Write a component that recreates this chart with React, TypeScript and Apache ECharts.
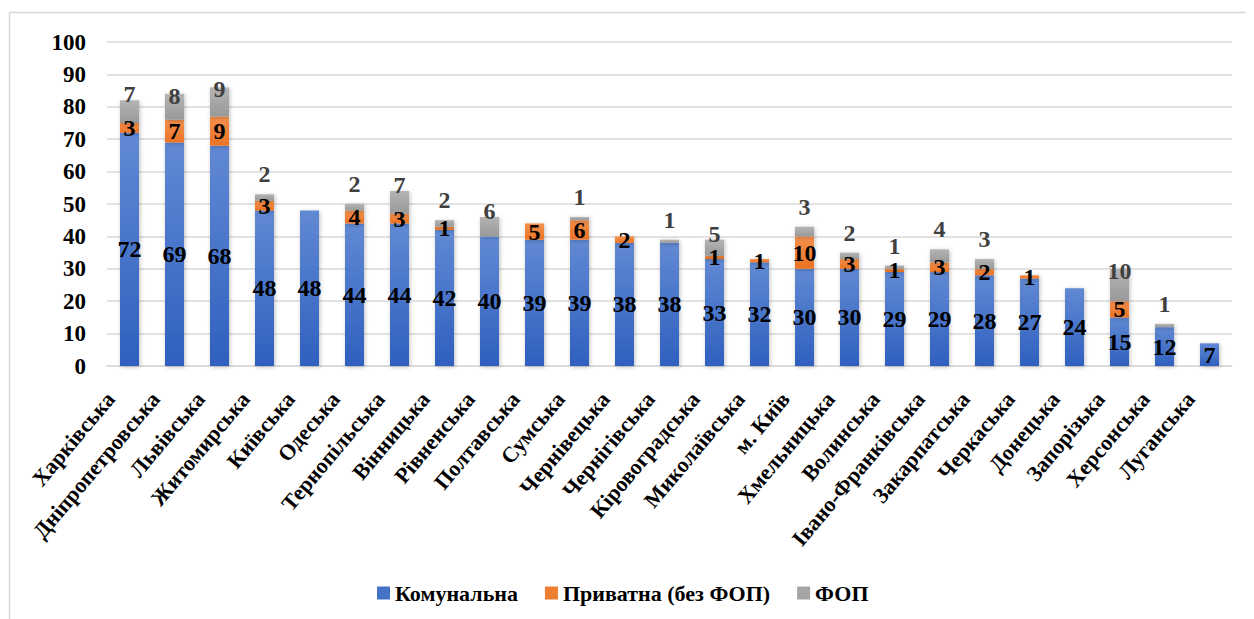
import React, { useEffect, useRef } from "react";
import * as echarts from "echarts";

const categories = [
  "Харківська", "Дніпропетровська", "Львівська", "Житомирська", "Київська",
  "Одеська", "Тернопільська", "Вінницька", "Рівненська", "Полтавська",
  "Сумська", "Чернівецька", "Чернігівська", "Кіровоградська", "Миколаївська",
  "м. Київ", "Хмельницька", "Волинська", "Івано-Франківська", "Закарпатська",
  "Черкаська", "Донецька", "Запорізька", "Херсонська", "Луганська",
];
const communal = [72, 69, 68, 48, 48, 44, 44, 42, 40, 39, 39, 38, 38, 33, 32, 30, 30, 29, 29, 28, 27, 24, 15, 12, 7];
const privateNoFop = [3, 7, 9, 3, 0, 4, 3, 1, 0, 5, 6, 2, 0, 1, 1, 10, 3, 1, 3, 2, 1, 0, 5, 0, 0];
const fop = [7, 8, 9, 2, 0, 2, 7, 2, 6, 0, 1, 0, 1, 5, 0, 3, 2, 1, 4, 3, 0, 0, 10, 1, 0];
const yTicks = { min: 0, max: 100, interval: 10 };
const seriesNames = ["Комунальна", "Приватна (без ФОП)", "ФОП"];

const FONT = "Times New Roman";

const grad = (top: string, bottom: string) =>
  new echarts.graphic.LinearGradient(0, 0, 0, 1, [
    { offset: 0, color: top },
    { offset: 1, color: bottom },
  ]);

export default function App() {
  const ref = useRef<HTMLDivElement>(null);
  useEffect(() => {
    if (!ref.current) return;
    const chart = echarts.init(ref.current, undefined, { renderer: "svg" });
    const hideZero = (p: any) => (p.value ? String(p.value) : "");
    const labelBase = {
      show: true,
      fontFamily: FONT,
      fontWeight: "bold" as const,
      fontSize: 24,
      color: "#000",
      formatter: hideZero,
    };
    const fopData = fop.map((v) => {
      let distance = 8;
      if (v >= 8) distance = -14;
      else if (v >= 5) distance = -6;
      return { value: v, label: { distance } };
    });
    const shadow = {
      shadowBlur: 4,
      shadowColor: "rgba(0,0,0,0.25)",
      shadowOffsetX: 1,
      shadowOffsetY: 1,
    };
    chart.setOption({
      animation: false,
      backgroundColor: "#fff",
      textStyle: { fontFamily: FONT },
      graphic: [
        {
          type: "rect",
          shape: { x: 1.5, y: 4.5, width: 1400, height: 800 },
          style: { fill: "none", stroke: "#d9d9d9", lineWidth: 1.5 },
          silent: true,
          z: -10,
        },
      ],
      grid: { left: 99, right: 22, top: 34, bottom: 253, containLabel: false },
      legend: {
        bottom: 10,
        left: 364,
        itemWidth: 13,
        itemHeight: 13,
        itemGap: 27,
        icon: "rect",
        textStyle: { fontFamily: FONT, fontWeight: "bold", fontSize: 22, color: "#000" },
        data: [
          { name: seriesNames[0], itemStyle: { color: "#4472C4" } },
          { name: seriesNames[1], itemStyle: { color: "#ED7D31" } },
          { name: seriesNames[2], itemStyle: { color: "#A5A5A5" } },
        ],
      },
      xAxis: {
        type: "category",
        data: categories,
        axisLine: { show: true, lineStyle: { color: "#d9d9d9", width: 1.5 } },
        axisTick: { show: false },
        axisLabel: {
          interval: 0,
          rotate: 50,
          margin: 6,
          padding: [0, 30, 0, 0],
          fontFamily: FONT,
          fontWeight: "bold",
          fontSize: 22,
          color: "#000",
        },
      },
      yAxis: {
        type: "value",
        min: yTicks.min,
        max: yTicks.max,
        interval: yTicks.interval,
        axisLine: { show: false },
        axisTick: { show: false },
        splitLine: { lineStyle: { color: "#d9d9d9", width: 1.5 } },
        axisLabel: {
          margin: 21,
          fontFamily: FONT,
          fontWeight: "bold",
          fontSize: 23,
          color: "#000",
        },
      },
      series: [
        {
          name: seriesNames[0],
          type: "bar",
          stack: "total",
          barWidth: 19,
          data: communal,
          itemStyle: { color: grad("#6189D3", "#2F60BF"), ...shadow },
          label: { ...labelBase, position: "inside" },
        },
        {
          name: seriesNames[1],
          type: "bar",
          stack: "total",
          barWidth: 19,
          data: privateNoFop,
          itemStyle: { color: grad("#F5914E", "#EB7324"), ...shadow },
          label: { ...labelBase, position: "inside" },
        },
        {
          name: seriesNames[2],
          type: "bar",
          stack: "total",
          barWidth: 19,
          data: fopData,
          itemStyle: { color: grad("#B4B4B4", "#999999"), ...shadow },
          label: { ...labelBase, position: "top", color: "#404040" },
        },
      ],
    });
    return () => chart.dispose();
  }, []);
  return <div ref={ref} style={{ width: 1246, height: 611 }} />;
}
